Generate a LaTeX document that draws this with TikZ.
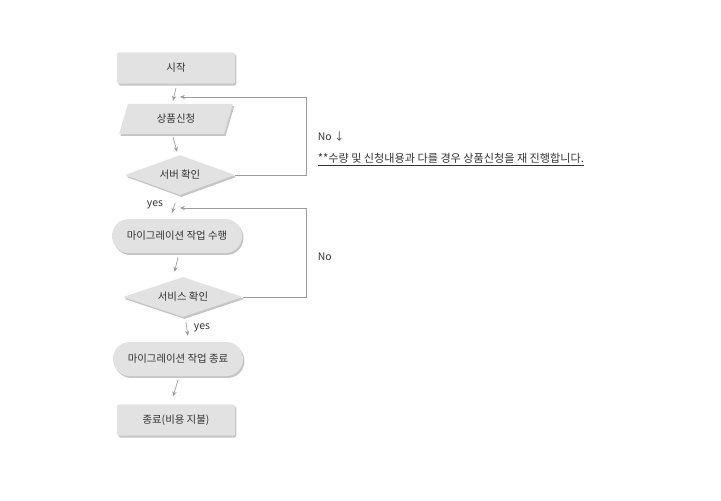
\documentclass[tikz,border=0pt]{standalone}
\usepackage{fontspec}
\setmainfont{Noto Sans CJK KR}
\usetikzlibrary{shapes.geometric,shapes.misc,shadows,arrows.meta}
\definecolor{boxgray}{HTML}{E2E2E2}
\definecolor{linegray}{HTML}{9C9C9C}
\definecolor{txtgray}{HTML}{333333}

\begin{document}
\begin{tikzpicture}[x=0.025cm, y=-0.025cm, every node/.style={align=center, font=\fontsize{7.4}{9}\selectfont, text=txtgray}]
\tikzset{
  shade/.style={drop shadow={shadow xshift=1pt, shadow yshift=-1.4pt, fill=black!45}},
  boxstep/.style={draw=none, fill=boxgray, shade, rounded corners=1.5pt, minimum width=2.95cm, minimum height=0.78cm},
  inputstep/.style={trapezium, trapezium left angle=77, trapezium right angle=103, trapezium stretches=true, fill=boxgray, shade, minimum width=2.85cm, minimum height=0.75cm},
  checkstep/.style={diamond, aspect=2.75, fill=boxgray, shade, inner sep=0pt, minimum width=2.75cm, minimum height=1cm},
  workstep/.style={fill=boxgray, shade, rounded corners=0.42cm, minimum width=3.25cm, minimum height=0.85cm},
  arr/.style={draw=linegray, line width=0.5pt, -{Stealth[length=3.5pt, width=3pt]}}
}
\useasboundingbox (0,0) rectangle (721,500);

% Flow
\node[boxstep] (start) at (176,68) {시작};
\node[inputstep] (req) at (176,119) {상품신청};
\node[checkstep] (chk1) at (180,175) {서버 확인};
\node[workstep] (mig) at (177,236) {마이그레이션 작업 수행};
\node[checkstep, aspect=3, minimum width=3cm] (chk2) at (183,297) {서비스 확인};
\node[workstep] (done) at (178,359) {마이그레이션 작업 종료};
\node[boxstep] (fin) at (176,420) {종료(비용 지불)};

\draw[arr] ([yshift=-2.8pt]start.south) -- ([xshift=-2.1pt, yshift=2.1pt]req.north);
\draw[arr] ([xshift=-2.1pt, yshift=-2.1pt]req.south) -- ([xshift=-2.1pt, yshift=2.1pt]chk1.north);
\draw[arr] ([xshift=-3.5pt, yshift=-5.6pt]chk1.south) -- ([xshift=-3.5pt, yshift=4.2pt]mig.north);
\draw[arr] ([xshift=0.7pt, yshift=-2.8pt]mig.south) -- ([xshift=-6pt, yshift=3.5pt]chk2.north);
\draw[arr] ([xshift=2.1pt, yshift=-3.5pt]chk2.south) -- ([xshift=7pt, yshift=4.2pt]done.north);
\draw[arr] ([xshift=0pt, yshift=-2.8pt]done.south) -- ([xshift=-2.1pt, yshift=5.6pt]fin.north);

% Loops back
\coordinate (back1) at (180,97);
\coordinate (back2) at (180,208);
\draw[arr] (chk1.east) -- (306,175) -- (306,97) -- (back1);
\draw[arr] (chk2.east) -- (306,297) -- (306,208) -- (back2);

% Labels
\node (yes1) at (155,205) {yes};
\node (yes2) at (202,328) {yes};
\node[anchor=west] (no1) at (313,137) {No ↓};
\node[anchor=west, font=\fontsize{7.9}{9}\selectfont] (note) at (313,160) {\underline{**수량 및 신청내용과 다를 경우 상품신청을 재 진행합니다.}};
\node[anchor=west] (no2) at (313,257) {No};

\end{tikzpicture}
\end{document}
